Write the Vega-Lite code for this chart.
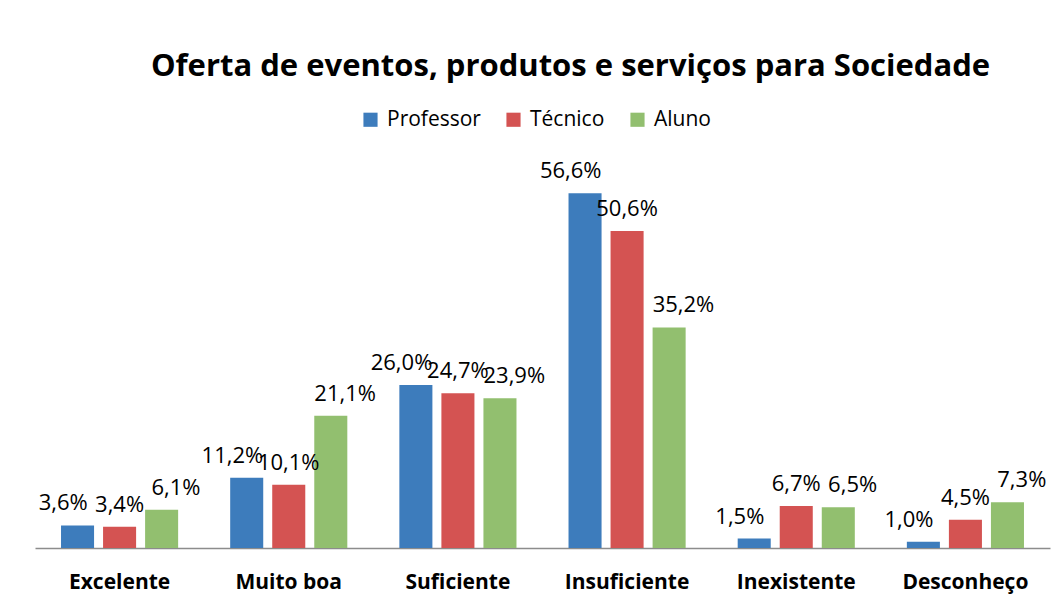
{
  "$schema": "https://vega.github.io/schema/vega-lite/v6.json",
  "width": 1015,
  "height": 376,
  "autosize": {"type": "none"},
  "padding": {"left": 35, "top": 172, "right": 13, "bottom": 57},
  "background": "white",
  "title": {
    "text": "Oferta de eventos, produtos e serviços para Sociedade",
    "font": "Open Sans",
    "fontSize": 31,
    "fontWeight": "bold",
    "color": "#000000",
    "anchor": "middle",
    "dx": 28,
    "offset": 26
  },
  "data": {
    "values": [
      {"cat": "Excelente", "grupo": "Professor", "v": 3.6, "lbl": "3,6%"},
      {"cat": "Excelente", "grupo": "Técnico", "v": 3.4, "lbl": "3,4%"},
      {"cat": "Excelente", "grupo": "Aluno", "v": 6.1, "lbl": "6,1%"},
      {"cat": "Muito boa", "grupo": "Professor", "v": 11.2, "lbl": "11,2%"},
      {"cat": "Muito boa", "grupo": "Técnico", "v": 10.1, "lbl": "10,1%"},
      {"cat": "Muito boa", "grupo": "Aluno", "v": 21.1, "lbl": "21,1%"},
      {"cat": "Suficiente", "grupo": "Professor", "v": 26.0, "lbl": "26,0%"},
      {"cat": "Suficiente", "grupo": "Técnico", "v": 24.7, "lbl": "24,7%"},
      {"cat": "Suficiente", "grupo": "Aluno", "v": 23.9, "lbl": "23,9%"},
      {"cat": "Insuficiente", "grupo": "Professor", "v": 56.6, "lbl": "56,6%"},
      {"cat": "Insuficiente", "grupo": "Técnico", "v": 50.6, "lbl": "50,6%"},
      {"cat": "Insuficiente", "grupo": "Aluno", "v": 35.2, "lbl": "35,2%"},
      {"cat": "Inexistente", "grupo": "Professor", "v": 1.5, "lbl": "1,5%"},
      {"cat": "Inexistente", "grupo": "Técnico", "v": 6.7, "lbl": "6,7%"},
      {"cat": "Inexistente", "grupo": "Aluno", "v": 6.5, "lbl": "6,5%"},
      {"cat": "Desconheço", "grupo": "Professor", "v": 1.0, "lbl": "1,0%"},
      {"cat": "Desconheço", "grupo": "Técnico", "v": 4.5, "lbl": "4,5%"},
      {"cat": "Desconheço", "grupo": "Aluno", "v": 7.3, "lbl": "7,3%"}
    ]
  },
  "encoding": {
    "x": {
      "field": "cat",
      "type": "nominal",
      "sort": null,
      "scale": {"paddingInner": 0, "paddingOuter": 0},
      "axis": {
        "title": null,
        "labelAngle": 0,
        "labelFont": "Open Sans",
        "labelFontSize": 21,
        "labelFontWeight": "bold",
        "labelColor": "#000000",
        "labelPadding": 23,
        "ticks": false,
        "domainColor": "#8c8c8c",
        "domainWidth": 1.5
      }
    },
    "y": {
      "field": "v",
      "type": "quantitative",
      "scale": {"domain": [0, 60], "nice": false},
      "axis": null
    }
  },
  "layer": [
    {
      "mark": {"type": "bar"},
      "encoding": {
        "xOffset": {
          "field": "grupo",
          "type": "nominal",
          "sort": ["Professor", "Técnico", "Aluno"],
          "scale": {"paddingInner": 0.214, "paddingOuter": 0.619}
        },
        "color": {
          "field": "grupo",
          "type": "nominal",
          "sort": ["Professor", "Técnico", "Aluno"],
          "scale": {"domain": ["Professor", "Técnico", "Aluno"], "range": ["#3d7cbc", "#d45352", "#92bf6f"]},
          "legend": {
            "title": null,
            "orient": "none",
            "direction": "horizontal",
            "legendX": 325,
            "legendY": -63,
            "symbolType": "square",
            "symbolSize": 200,
            "symbolStrokeWidth": 0,
            "labelFont": "Open Sans",
            "labelFontSize": 21,
            "labelColor": "#000000",
            "columnPadding": 22,
            "labelOffset": 6
          }
        }
      }
    },
    {
      "mark": {"type": "text", "baseline": "bottom", "dy": -10, "font": "Open Sans", "fontSize": 22, "color": "#000000"},
      "encoding": {
        "xOffset": {
          "field": "grupo",
          "type": "nominal",
          "sort": ["Professor", "Técnico", "Aluno"],
          "scale": {"type": "point", "padding": 0.5}
        },
        "text": {"field": "lbl", "type": "nominal"}
      }
    }
  ],
  "resolve": {"scale": {"xOffset": "independent"}},
  "config": {
    "view": {"stroke": null}
  }
}
